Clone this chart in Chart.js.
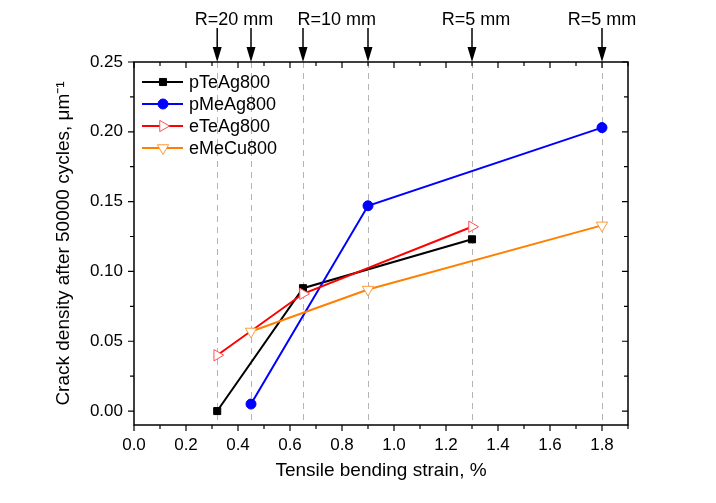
<!DOCTYPE html>
<html>
<head>
<meta charset="utf-8">
<script src="https://cdn.jsdelivr.net/npm/chart.js@4/dist/chart.umd.min.js"></script>
<style>
  html, body { margin: 0; background: #fff; }
</style>
</head>
<body>
<canvas id="chart" width="716" height="503"></canvas>
<script>
const FONT = '"Liberation Sans", Arial, sans-serif';

// axes
const strainTicks = [0.0, 0.2, 0.4, 0.6, 0.8, 1.0, 1.2, 1.4, 1.6, 1.8];
const densityTicks = [0.00, 0.05, 0.10, 0.15, 0.20, 0.25];

// bending radius markers along the top
const arrowStrains = [0.32, 0.45, 0.65, 0.9, 1.3, 1.8];
const radiusLabels = ['R=20 mm', 'R=10 mm', 'R=5 mm', 'R=5 mm'];
const radiusLabelAt = [0.385, 0.78, 1.315, 1.8];

// series
const seriesNames = ['pTeAg800', 'pMeAg800', 'eTeAg800', 'eMeCu800'];
const pTeAg800X = [0.32, 0.65, 1.3];
const pTeAg800Y = [0.000, 0.088, 0.123];
const pMeAg800X = [0.45, 0.9, 1.8];
const pMeAg800Y = [0.005, 0.147, 0.203];
const eTeAg800X = [0.32, 0.65, 1.3];
const eTeAg800Y = [0.040, 0.084, 0.132];
const eMeCu800X = [0.45, 0.9, 1.8];
const eMeCu800Y = [0.057, 0.087, 0.133];

function pts(xs, ys) {
  return xs.map((x, i) => ({ x: x, y: ys[i] }));
}

const datasets = [
  { label: seriesNames[0], data: pts(pTeAg800X, pTeAg800Y), borderColor: '#000', backgroundColor: '#000',
    pointBorderColor: '#000', pointStyle: 'rect', pointRadius: 5, pointRotation: 0, order: 4 },
  { label: seriesNames[1], data: pts(pMeAg800X, pMeAg800Y), borderColor: '#0000ff', backgroundColor: '#0000ff',
    pointBorderColor: '#0000ff', pointStyle: 'circle', pointRadius: 5, pointRotation: 0, order: 3 },
  { label: seriesNames[2], data: pts(eTeAg800X, eTeAg800Y), borderColor: '#ff0000', backgroundColor: '#fff',
    pointBorderColor: '#ff5050', pointStyle: 'triangle', pointRadius: 6.5, pointRotation: 90, order: 2 },
  { label: seriesNames[3], data: pts(eMeCu800X, eMeCu800Y), borderColor: '#ff8000', backgroundColor: '#fff',
    pointBorderColor: '#ff9933', pointStyle: 'triangle', pointRadius: 6.5, pointRotation: 180, order: 1 }
];
datasets.forEach(d => {
  d.borderWidth = 2;
  d.pointBackgroundColor = d.backgroundColor;
  d.pointBorderWidth = 1;
  d.showLine = true;
  d.fill = false;
});

const decorPlugin = {
  id: 'decor',
  beforeDatasetsDraw(chart) {
    const { ctx, chartArea: a, scales: { x } } = chart;
    ctx.save();
    ctx.strokeStyle = '#b4b4b4';
    ctx.lineWidth = 1;
    ctx.setLineDash([6, 5]);
    arrowStrains.forEach(v => {
      const px = Math.round(x.getPixelForValue(v)) + 0.5;
      ctx.beginPath();
      ctx.moveTo(px, a.top);
      ctx.lineTo(px, a.bottom);
      ctx.stroke();
    });
    ctx.restore();
  },
  afterDatasetsDraw(chart) {
    const { ctx, chartArea: a, scales: { x, y } } = chart;
    ctx.save();

    // frame
    ctx.strokeStyle = '#000';
    ctx.lineWidth = 1.5;
    ctx.strokeRect(a.left, a.top, a.right - a.left, a.bottom - a.top);

    // ticks, major and minor
    ctx.lineWidth = 1.2;
    ctx.beginPath();
    for (let i = 0; i <= 19; i++) {
      const px = x.getPixelForValue(i * 0.1);
      const len = i % 2 === 0 ? 6 : 4;
      ctx.moveTo(px, a.bottom); ctx.lineTo(px, a.bottom + len);
      ctx.moveTo(px, a.top); ctx.lineTo(px, a.top + len);
    }
    for (let i = 0; i <= 10; i++) {
      const py = y.getPixelForValue(i * 0.025);
      const len = i % 2 === 0 ? 6 : 4;
      ctx.moveTo(a.left, py); ctx.lineTo(a.left - len, py);
      ctx.moveTo(a.right, py); ctx.lineTo(a.right - len, py);
    }
    ctx.stroke();

    // arrows
    ctx.fillStyle = '#000';
    ctx.lineWidth = 1.5;
    arrowStrains.forEach(v => {
      const px = x.getPixelForValue(v);
      ctx.beginPath();
      ctx.moveTo(px, 28);
      ctx.lineTo(px, a.top - 12);
      ctx.stroke();
      ctx.beginPath();
      ctx.moveTo(px - 4.5, a.top - 15);
      ctx.lineTo(px + 4.5, a.top - 15);
      ctx.lineTo(px, a.top);
      ctx.closePath();
      ctx.fill();
    });
    ctx.font = '18px ' + FONT;
    ctx.textAlign = 'center';
    ctx.textBaseline = 'alphabetic';
    radiusLabels.forEach((t, i) => {
      ctx.fillText(t, x.getPixelForValue(radiusLabelAt[i]), 25);
    });

    // legend
    ctx.font = '18px ' + FONT;
    ctx.textAlign = 'left';
    ctx.textBaseline = 'middle';
    chart.data.datasets.forEach((d, i) => {
      const ly = a.top + 20 + i * 22;
      const lx = a.left + 8;
      ctx.strokeStyle = d.borderColor;
      ctx.lineWidth = 2;
      ctx.beginPath();
      ctx.moveTo(lx, ly);
      ctx.lineTo(lx + 41, ly);
      ctx.stroke();
      ctx.fillStyle = d.pointBackgroundColor;
      ctx.strokeStyle = d.pointBorderColor;
      ctx.lineWidth = 1;
      Chart.helpers.drawPoint(ctx, {
        pointStyle: d.pointStyle, rotation: d.pointRotation, radius: d.pointRadius, borderWidth: 1
      }, lx + 21, ly);
      ctx.fillStyle = '#000';
      ctx.fillText(d.label, lx + 47, ly + 1);
    });
    ctx.restore();
  }
};

new Chart(document.getElementById('chart'), {
  type: 'scatter',
  data: { datasets: datasets },
  plugins: [decorPlugin],
  options: {
    responsive: false,
    devicePixelRatio: 1,
    animation: false,
    layout: { padding: { top: 62, right: 88, left: 0, bottom: 0 } },
    plugins: { legend: { display: false }, tooltip: { enabled: false } },
    scales: {
      x: {
        type: 'linear', min: 0, max: 1.9,
        afterBuildTicks: s => { s.ticks = strainTicks.map(v => ({ value: v })); },
        afterFit: s => { s.height = 78; },
        grid: { display: false, drawTicks: false },
        border: { display: false },
        ticks: { padding: 10, color: '#000', font: { family: FONT, size: 17 },
          maxRotation: 0, autoSkip: false, callback: v => v.toFixed(1) },
        title: { display: true, text: 'Tensile bending strain, %', color: '#000',
          font: { family: FONT, size: 19 }, padding: { top: 0, bottom: 21 } }
      },
      y: {
        type: 'linear', min: -0.01, max: 0.25,
        afterBuildTicks: s => { s.ticks = densityTicks.map(v => ({ value: v })); },
        afterFit: s => { s.width = 134; },
        grid: { display: false, drawTicks: false },
        border: { display: false },
        ticks: { padding: 11, color: '#000', font: { family: FONT, size: 17 },
          autoSkip: false, callback: v => v.toFixed(2) },
        title: { display: true, text: 'Crack density after 50000 cycles, μm⁻¹', color: '#000',
          font: { family: FONT, size: 19 }, padding: { top: 52, bottom: 0 } }
      }
    }
  }
});
</script>
</body>
</html>
